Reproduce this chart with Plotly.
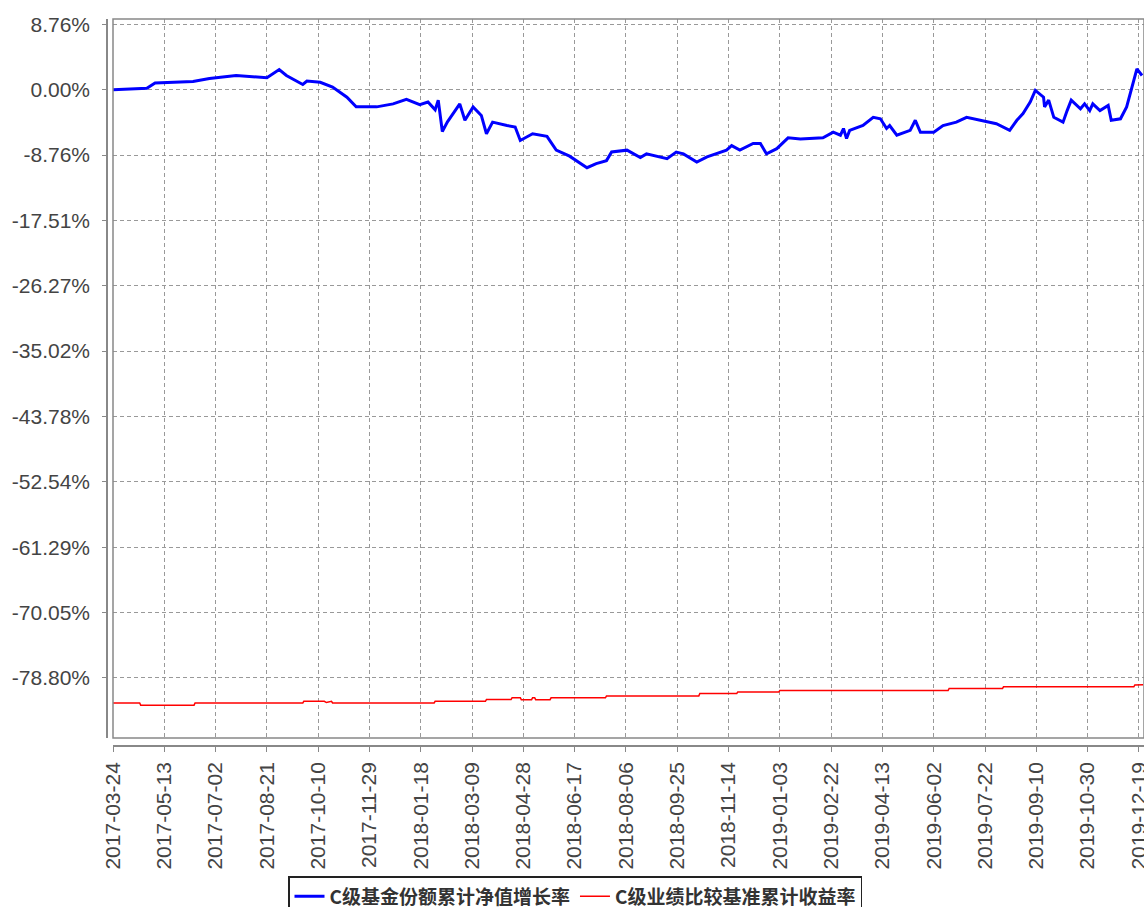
import plotly.graph_objects as go

# ---- data ----
fund_dates = [
    "2017-03-24", "2017-04-26", "2017-05-04", "2017-06-10", "2017-06-26", "2017-07-22",
    "2017-08-21", "2017-09-02", "2017-09-09", "2017-09-25", "2017-09-29", "2017-10-12",
    "2017-10-24", "2017-11-07", "2017-11-16", "2017-12-06", "2017-12-22", "2018-01-04",
    "2018-01-17", "2018-01-25", "2018-02-01", "2018-02-04", "2018-02-08", "2018-02-13",
    "2018-02-25", "2018-03-02", "2018-03-10", "2018-03-18", "2018-03-23", "2018-03-29",
    "2018-04-12", "2018-04-20", "2018-04-25", "2018-05-01", "2018-05-07", "2018-05-21",
    "2018-05-30", "2018-06-12", "2018-06-29", "2018-07-08", "2018-07-18", "2018-07-23",
    "2018-08-07", "2018-08-20", "2018-08-26", "2018-09-15", "2018-09-24", "2018-10-01",
    "2018-10-14", "2018-10-24", "2018-11-12", "2018-11-17", "2018-11-25", "2018-12-08",
    "2018-12-15", "2018-12-21", "2018-12-31", "2019-01-11", "2019-01-23", "2019-02-14",
    "2019-02-24", "2019-03-03", "2019-03-06", "2019-03-09", "2019-03-12", "2019-03-25",
    "2019-04-04", "2019-04-11", "2019-04-17", "2019-04-20", "2019-04-27", "2019-05-10",
    "2019-05-15", "2019-05-20", "2019-06-02", "2019-06-11", "2019-06-24", "2019-07-04",
    "2019-07-17", "2019-08-02", "2019-08-15", "2019-08-22", "2019-08-28", "2019-09-04",
    "2019-09-09", "2019-09-17", "2019-09-18", "2019-09-22", "2019-09-27", "2019-10-06",
    "2019-10-10", "2019-10-14", "2019-10-23", "2019-10-27", "2019-11-01", "2019-11-04",
    "2019-11-11", "2019-11-19", "2019-11-22", "2019-12-01", "2019-12-07", "2019-12-12",
    "2019-12-17", "2019-12-22",
]
fund_values = [
    0.0, 0.2, 0.9, 1.1, 1.5, 1.9,
    1.6, 2.7, 1.9, 0.7, 1.15, 1.0,
    0.35, -1.0, -2.3, -2.3, -1.9, -1.3,
    -2.0, -1.65, -2.7, -1.4, -5.6, -4.3,
    -1.9, -4.1, -2.3, -3.45, -5.9, -4.35,
    -4.8, -5.0, -6.8, -6.35, -5.9, -6.25,
    -8.1, -8.9, -10.45, -9.9, -9.5, -8.35,
    -8.1, -9.1, -8.6, -9.25, -8.35, -8.6,
    -9.7, -9.0, -8.1, -7.5, -8.1, -7.2,
    -7.2, -8.6, -7.9, -6.45, -6.6, -6.45,
    -5.7, -6.1, -5.2, -6.55, -5.45, -4.8,
    -3.7, -3.9, -5.2, -4.8, -6.1, -5.45,
    -4.1, -5.7, -5.7, -4.8, -4.35, -3.7,
    -4.1, -4.55, -5.45, -4.1, -3.2, -1.65,
    -0.1, -1.0, -2.3, -1.4, -3.7, -4.35,
    -2.8, -1.4, -2.55, -1.9, -2.8, -1.9,
    -2.8, -2.1, -4.1, -3.9, -2.3, 0.35,
    2.8, 1.9,
]

bench_dates = [
    "2017-03-24", "2017-04-19", "2017-04-20", "2017-06-11", "2017-06-12", "2017-09-25",
    "2017-09-26", "2017-10-16", "2017-10-18", "2017-10-23", "2017-10-24", "2018-01-31",
    "2018-02-01", "2018-03-22", "2018-03-23", "2018-04-16", "2018-04-17", "2018-04-25",
    "2018-04-26", "2018-05-06", "2018-05-07", "2018-05-09", "2018-05-10", "2018-05-24",
    "2018-05-25", "2018-07-17", "2018-07-18", "2018-10-16", "2018-10-17", "2018-11-22",
    "2018-11-23", "2019-01-02", "2019-01-03", "2019-06-16", "2019-06-17", "2019-08-08",
    "2019-08-09", "2019-12-14", "2019-12-15", "2019-12-23",
]
bench_values = [
    -82.15, -82.15, -82.45, -82.45, -82.15, -82.15,
    -81.93, -81.93, -82.10, -81.93, -82.15, -82.15,
    -81.93, -81.93, -81.70, -81.70, -81.45, -81.45,
    -81.72, -81.72, -81.45, -81.45, -81.72, -81.72,
    -81.47, -81.47, -81.21, -81.21, -80.89, -80.89,
    -80.68, -80.68, -80.47, -80.47, -80.22, -80.22,
    -80.00, -80.00, -79.75, -79.72,
]

y_ticks = [8.76, 0.00, -8.76, -17.51, -26.27, -35.02, -43.78, -52.54, -61.29, -70.05, -78.80]
x_ticks = [
    "2017-03-24", "2017-05-13", "2017-07-02", "2017-08-21", "2017-10-10", "2017-11-29",
    "2018-01-18", "2018-03-09", "2018-04-28", "2018-06-17", "2018-08-06", "2018-09-25",
    "2018-11-14", "2019-01-03", "2019-02-22", "2019-04-13", "2019-06-02", "2019-07-22",
    "2019-09-10", "2019-10-30", "2019-12-19",
]
series_names = ["C级基金份额累计净值增长率", "C级业绩比较基准累计收益率"]

# ---- figure ----
W, H = 1144, 907
ML, MR, MT, MB = 107, 0, 19, 161
plot_w = W - ML - MR
plot_h = H - MT - MB

fig = go.Figure()
fig.add_trace(go.Scatter(x=fund_dates, y=fund_values, mode="lines", name=series_names[0],
                         line=dict(color="#0000ff", width=3)))
fig.add_trace(go.Scatter(x=bench_dates, y=bench_values, mode="lines", name=series_names[1],
                         line=dict(color="#ff0000", width=1.5)))

tick_font = dict(family="Liberation Sans, Arial, sans-serif", size=21, color="#444444")
grid_kw = dict(showgrid=True, gridcolor="#999999", gridwidth=1, griddash="4px,3px")

fig.update_layout(
    width=W, height=H,
    margin=dict(l=ML, r=MR, t=MT, b=MB, pad=0, autoexpand=False),
    paper_bgcolor="white", plot_bgcolor="white",
    showlegend=True,
    legend=dict(
        orientation="h",
        x=(288 - ML) / plot_w, xanchor="left",
        y=-(876 - (MT + plot_h)) / plot_h, yanchor="top",
        bordercolor="#222222", borderwidth=1.5, bgcolor="white",
        font=dict(family="Noto Sans CJK SC", size=19, color="#333333", weight="bold"),
        itemwidth=30, tracegroupgap=0,
    ),
    xaxis=dict(
        type="date",
        domain=[6 / plot_w, 1],
        anchor="free", position=0,
        range=["2017-03-24", "2019-12-23 22:00"],
        tickmode="array", tickvals=x_ticks, ticktext=x_ticks,
        tickangle=-90, tickfont=tick_font,
        ticks="outside", ticklen=5, tickcolor="#888888",
        showline=True, linecolor="#888888", linewidth=1.5,
        zeroline=False, ticklabelstandoff=2, automargin=False,
        ticklabeloverflow="allow",
        **grid_kw,
    ),
    yaxis=dict(
        domain=[8 / plot_h, 1],
        anchor="free", position=0,
        range=[-86.85, 9.47],
        tickmode="array", tickvals=y_ticks,
        ticktext=[f"{v:.2f}%" for v in y_ticks],
        tickfont=tick_font,
        ticks="outside", ticklen=4, tickcolor="#888888",
        showline=True, linecolor="#888888", linewidth=1.5,
        zeroline=False, ticklabelstandoff=8, automargin=False,
        ticklabeloverflow="allow",
        **grid_kw,
    ),
    shapes=[
        dict(type="rect", xref="x domain", yref="y domain", x0=0, x1=1, y0=0, y1=1,
             line=dict(color="#888888", width=1.5), layer="above"),
    ],
)

fig.write_html(
    "out.html",
    config={"displayModeBar": False},
    post_script="document.body.style.margin='0';document.body.style.overflow='hidden';",
)
